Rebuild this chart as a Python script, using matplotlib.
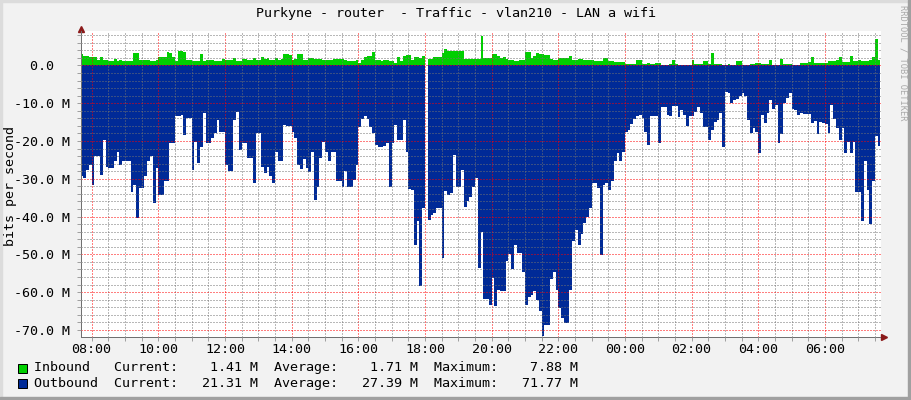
import numpy as np
import matplotlib.pyplot as plt
from matplotlib.patches import Rectangle
from matplotlib.lines import Line2D

plt.rcParams['font.family'] = ['DejaVu Sans Mono']

# 5 minute samples in Mbit/s, first sample at 07:40
start_hour = 7 + 40 / 60
step_hours = 5 / 60

inbound = np.array([
    3.04, 2.42, 2.42, 2.25, 2.25, 2.25, 1.54, 2.16, 1.45, 1.45, 1.28, 1.28,
    1.63, 1.19, 1.37, 1.28, 1.19, 1.10, 1.10, 3.22, 3.22, 1.54, 1.37, 1.37,
    1.37, 1.19, 1.19, 1.54, 2.16, 2.16, 2.16, 3.57, 3.31, 2.34, 1.28, 3.75,
    3.75, 3.57, 1.45, 1.45, 1.28, 1.28, 1.28, 3.04, 1.10, 1.54, 1.54, 1.54,
    1.28, 1.28, 1.28, 1.72, 1.37, 1.37, 1.37, 1.98, 1.10, 1.10, 1.63, 1.63,
    1.54, 1.54, 1.98, 1.54, 1.54, 2.16, 1.63, 1.98, 1.54, 1.54, 1.98, 1.45,
    1.72, 2.95, 2.95, 2.69, 1.54, 1.81, 3.04, 3.04, 1.54, 1.54, 1.89, 1.89,
    1.72, 1.72, 1.72, 1.45, 1.45, 1.45, 1.45, 1.81, 1.81, 1.63, 1.63, 1.45,
    1.28, 1.28, 1.28, 1.37, 0.75, 1.37, 2.16, 2.42, 2.42, 3.57, 1.54, 1.54,
    1.28, 1.45, 1.45, 1.10, 1.10, 0.75, 2.16, 1.28, 2.42, 2.86, 2.86, 1.45,
    2.16, 2.16, 2.07, 2.51, np.nan, 1.81, 1.81, 2.25, 2.25, 2.25, 3.31, 4.36,
    3.92, 3.92, 3.92, 3.92, 3.92, 3.92, 1.63, 1.63, 1.63, 1.63, 1.63, 1.63,
    7.88, 1.98, 1.98, 1.98, 3.04, 3.04, 2.51, 1.98, 2.25, 1.72, 1.54,
    1.54, 1.28, 1.28, 1.45, 1.45, 3.57, 3.57, 1.98, 2.42, 3.31, 3.04, 3.04,
    2.78, 2.78, 1.72, 1.54, 1.54, 1.98, 1.98, 1.98, 1.98, 2.42, 1.54, 1.54,
    1.72, 1.72, 1.45, 1.45, 1.45, 1.45, 1.10, 1.10, 1.28, 1.98, 1.98, 1.28,
    1.28, 1.01, 1.01, 0.84, 0.84, 0.39, 0.39, 0.39, 0.39, 1.37, 1.37, 0.39,
    0.39, 0.66, 0.39, 0.39, 0.66, 0.66, 0.22, 0.22, 0.22, 0.39, 1.37, 0.39,
    0.22, 0.22, 0.22, 0.22, 0.22, 1.45, 0.39, 0.39, 0.39, 1.10, 1.10, 0.39,
    3.31, 0.39, 0.39, 0.39, 0.22, 0.22, 0.39, 0.22, 0.22, 1.28, 1.28, 0.22,
    0.22, 0.22, 0.39, 0.39, 0.57, 0.57, 0.39, 0.39, 0.39, 1.37, 0.22, 0.22,
    0.22, 1.72, 0.39, 0.39, 0.39, 0.22, 0.22, 0.22, 0.57, 0.57, 0.57, 0.84,
    2.25, 0.57, 0.66, 0.66, 0.66, 0.66, 1.10, 1.10, 1.10, 1.54, 2.16, 0.92,
    0.92, 0.92, 2.42, 1.10, 1.10, 1.37, 1.10, 1.10, 1.10, 1.37, 2.16, 7.00, 1.41,
])

outbound = np.array([
    29.4, 29.9, 27.7, 26.3, 31.6, 23.9, 23.9, 29.0, 19.7, 26.8, 27.2, 27.2,
    25.4, 22.8, 26.3, 25.2, 25.2, 25.2, 33.4, 31.6, 40.3, 32.5, 32.5, 29.4,
    25.4, 24.1, 36.5, 27.2, 34.3, 34.3, 30.7, 30.7, 20.6, 20.6, 13.3, 13.3,
    13.1, 18.4, 14.0, 14.0, 27.7, 20.2, 25.9, 21.5, 12.7, 20.6, 20.6, 19.3,
    17.9, 14.4, 17.5, 17.5, 26.3, 27.9, 27.9, 14.4, 12.2, 22.4, 20.6, 20.6,
    24.6, 24.6, 31.2, 17.9, 17.9, 26.8, 28.5, 26.8, 29.4, 31.2, 22.8, 25.4,
    25.4, 15.7, 16.0, 16.0, 17.5, 19.3, 26.3, 27.5, 24.8, 27.2, 28.1, 22.8,
    35.6, 32.1, 24.6, 20.2, 22.8, 25.4, 22.8, 22.8, 30.7, 30.7, 32.3, 27.9,
    32.1, 32.1, 30.3, 26.3, 16.2, 14.2, 13.5, 14.2, 16.2, 17.9, 21.0, 21.6,
    21.6, 21.3, 20.6, 32.3, 20.6, 15.7, 19.7, 19.7, 14.4, 22.8, 32.8, 33.0,
    47.5, 41.3, 58.3, 37.8, np.nan, 40.9, 39.6, 39.0, 37.8, 37.8, 51.0, 33.2,
    34.3, 33.8, 23.7, 32.1, 32.1, 27.7, 37.4, 36.0, 34.7, 32.1, 29.9, 53.7,
    44.0, 61.9, 61.9, 63.4, 56.3, 63.6, 59.4, 59.8, 59.8, 51.9, 49.9,
    53.9, 47.5, 49.7, 49.7, 54.8, 63.4, 61.2, 60.7, 59.8, 62.0, 65.1, 71.77,
    68.7, 68.7, 56.6, 54.6, 59.4, 64.3, 66.9, 68.2, 68.2, 59.4, 46.6, 43.5,
    47.5, 44.6, 41.6, 40.0, 37.8, 31.2, 31.0, 32.5, 50.1, 31.6, 31.0, 33.0,
    30.7, 25.4, 23.1, 25.4, 22.8, 17.5, 17.1, 15.6, 14.2, 13.4, 13.1, 14.0,
    17.5, 21.0, 13.4, 13.4, 13.5, 20.6, 10.9, 10.9, 13.1, 13.4, 10.7, 10.7,
    13.7, 11.8, 13.1, 16.0, 13.5, 13.5, 12.2, 10.9, 12.7, 16.2, 16.2, 19.7,
    17.1, 14.9, 14.4, 12.5, 21.5, 6.9, 7.4, 10.0, 9.1, 8.9, 8.2, 7.4,
    8.1, 14.4, 18.0, 16.6, 17.5, 23.2, 13.1, 15.3, 12.5, 9.1, 11.6, 10.5,
    20.6, 18.1, 10.0, 8.7, 7.2, 11.6, 11.8, 13.1, 12.5, 12.8, 12.8, 12.8,
    15.3, 14.6, 18.1, 14.9, 15.3, 15.5, 18.0, 10.5, 14.2, 16.6, 19.7, 16.6,
    23.1, 20.2, 23.1, 20.2, 33.6, 33.6, 41.3, 25.3, 32.9, 41.9, 30.7, 18.7, 21.31,
])

title = "Purkyne - router  - Traffic - vlan210 - LAN a wifi"
y_ticks = [0, -10, -20, -30, -40, -50, -60, -70]
y_tick_labels = ["0.0  ", "-10.0 M", "-20.0 M", "-30.0 M", "-40.0 M",
                 "-50.0 M", "-60.0 M", "-70.0 M"]
x_ticks = [8, 10, 12, 14, 16, 18, 20, 22, 24, 26, 28, 30]
x_tick_labels = ["08:00", "10:00", "12:00", "14:00", "16:00", "18:00",
                 "20:00", "22:00", "00:00", "02:00", "04:00", "06:00"]
legend_names = ["Inbound  ", "Outbound "]
legend_current = [1.41, 21.31]
legend_average = [1.71, 27.39]
legend_maximum = [7.88, 71.77]

green = '#00cf00'
blue = '#002a97'
W, H = 911, 400

fig = plt.figure(figsize=(W / 100, H / 100), dpi=100, facecolor='#f2f2f2')
ax = fig.add_axes([80.5 / W, 1 - 336.5 / H, 800 / W, 305.5 / H])
ax.set_facecolor('white')

# areas, step style like rrdtool
edges = start_hour + np.arange(len(outbound) + 1) * step_hours
ax.stairs(inbound, edges, baseline=0, fill=True, color=green, lw=0)
ax.stairs(-outbound, edges, baseline=0, fill=True, color=blue, lw=0)

ax.set_xticks(x_ticks)
ax.set_xticklabels(x_tick_labels)
ax.set_xticks(np.arange(8, 31.7, 0.5), minor=True)
ax.set_yticks(y_ticks)
ax.set_yticklabels(y_tick_labels)
ax.set_yticks(np.arange(-70, 9, 2), minor=True)
# limits after the ticks, set_xticks would widen them
ax.set_xlim(start_hour, start_hour + 24)
ax.set_ylim(-71.77, 9.13)

#dotted grids on top of the areas
ax.set_axisbelow(False)
ax.grid(which='minor', color=(0.45, 0.45, 0.45, 0.25), linestyle=(0, (1, 2)), linewidth=0.72)
ax.grid(which='major', color=(1, 0, 0, 0.3), linestyle=(0, (1, 2)), linewidth=0.72)

ax.tick_params(which='both', direction='out', length=3, width=0.72, color='#a0a0a0')
ax.tick_params(axis='y', which='major', labelsize=9.6, pad=4.2)
ax.tick_params(axis='x', which='major', labelsize=9.6, pad=1.5)

for side in ['top', 'right']:
    ax.spines[side].set_visible(False)
for side in ['left', 'bottom']:
    ax.spines[side].set_color('#707070')
    ax.spines[side].set_linewidth(0.72)

# axis arrows
ax.add_line(Line2D([1.0, 1.005], [0, 0], transform=ax.transAxes, color='#707070',
                   lw=0.72, clip_on=False))
ax.plot([1.005], [0], marker='>', ms=4.5, color='#8b1a1a', transform=ax.transAxes, clip_on=False)
ax.plot([0], [1.005], marker='^', ms=4.5, color='#8b1a1a', transform=ax.transAxes, clip_on=False)

fig.text(455.5 / W, 1 - 14 / H, title, ha='center', va='center', fontsize=9.6)
fig.text(11 / W, 1 - 186 / H, 'bits per second', rotation=90, ha='center', va='center',
         fontsize=9.6)
fig.text(902.5 / W, 1 - 5 / H, 'RRDTOOL / TOBI OETIKER', rotation=270, ha='center', va='top',
         fontsize=6.3, color='#a8a8a8')

# legend rows
row_y = [368, 383]
for i, color in enumerate([green, blue]):
    fig.patches.append(Rectangle((18 / W, 1 - (row_y[i] + 4.5) / H), 9 / W, 9 / H,
                                 transform=fig.transFigure, facecolor=color,
                                 edgecolor='black', lw=0.72))
    line = "%s Current:%8.2f M  Average:%8.2f M  Maximum:%8.2f M" % (
        legend_names[i], legend_current[i], legend_average[i], legend_maximum[i])
    fig.text(33.7 / W, 1 - row_y[i] / H, line, ha='left', va='center', fontsize=9.6)

# frame shading
fig.patches.append(Rectangle((0, 0), 2 / W, 1, transform=fig.transFigure, color='#dcdcdc'))
fig.patches.append(Rectangle((0, 1 - 2 / H), 1, 2 / H, transform=fig.transFigure, color='#dcdcdc'))
fig.patches.append(Rectangle((1 - 3 / W, 0), 3 / W, 1, transform=fig.transFigure, color='#a0a0a0'))
fig.patches.append(Rectangle((0, 0), 1, 3 / H, transform=fig.transFigure, color='#a0a0a0'))

plt.savefig('out.png', dpi=100, facecolor=fig.get_facecolor())
